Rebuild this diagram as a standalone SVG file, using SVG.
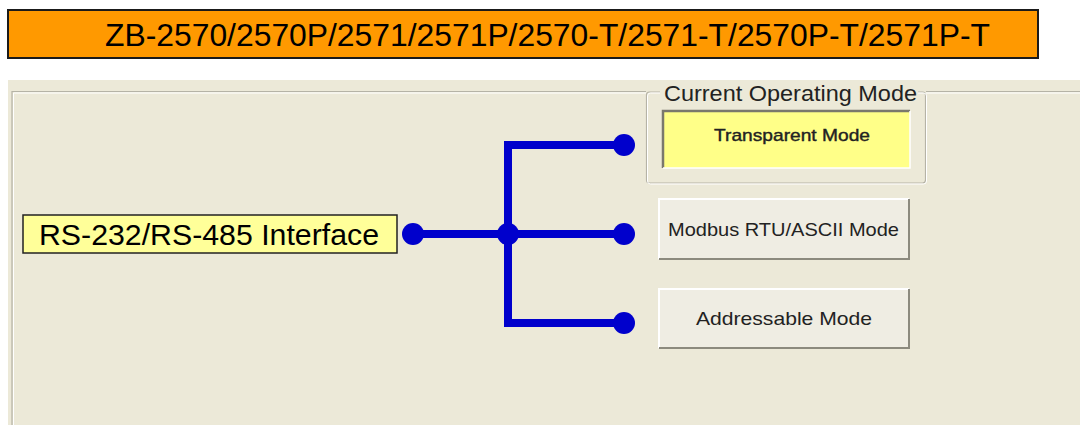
<svg xmlns="http://www.w3.org/2000/svg" width="1080" height="425" viewBox="0 0 1080 425">
<style>
.t{font-family:"Liberation Sans",Arial,sans-serif;fill:#000}
.ui{font-family:"Liberation Sans",Arial,sans-serif;fill:#222}
.wire{stroke:#0000CC;stroke-width:8;fill:none;stroke-linejoin:miter}
.dot{fill:#0000CC}
.btn{fill:#EFEDE3}
.hl{stroke:#FFFFFF;stroke-width:2;fill:none}
.sh{stroke:#8C8A7E;stroke-width:2;fill:none}
.etch{stroke:#B5B3A6;stroke-width:1.2;fill:none}
.etchw{stroke:#FFFFFF;stroke-width:1;fill:none}
</style>
<rect width="1080" height="425" fill="#FFFFFF"/>
<g id="title">
<rect x="8" y="10" width="1030" height="48" fill="#FF9900" stroke="#1A1A1A" stroke-width="2"/>
<text class="t" x="105" y="46" font-size="31" textLength="885" lengthAdjust="spacingAndGlyphs">ZB-2570/2570P/2571/2571P/2570-T/2571-T/2570P-T/2571P-T</text>
</g>
<g id="panel">
<rect x="8" y="80" width="1072" height="345" fill="#ECE9D8"/>
<path class="etch" d="M12 425 V91.5 H646 M926 91.5 H1080"/>
<path class="etchw" d="M13.5 425 V93 H646 M926 93 H1080"/>
</g>
<g id="interface">
<rect x="23" y="215" width="374" height="38" fill="#FFFF99" stroke="#222" stroke-width="1.5"/>
<text class="t" x="39" y="245" font-size="29" fill="#222" textLength="340" lengthAdjust="spacingAndGlyphs">RS-232/RS-485 Interface</text>
</g>
<g id="connectors">
<path class="wire" d="M413 234 H624 M624 145 H508 V323 H624"/>
<circle class="dot" cx="413" cy="234" r="11"/>
<circle class="dot" cx="508" cy="234" r="11"/>
<circle class="dot" cx="624" cy="145" r="11"/>
<circle class="dot" cx="624" cy="234" r="11"/>
<circle class="dot" cx="624" cy="323" r="11"/>
</g>
<g id="current-mode">
<rect x="646.5" y="92" width="279" height="91" rx="3" class="etch"/>
<rect x="647.5" y="93" width="279" height="91" rx="3" class="etchw"/>
<rect x="660" y="84" width="258" height="18" fill="#ECE9D8"/>
<text class="ui" x="664" y="101" font-size="22" textLength="253" lengthAdjust="spacingAndGlyphs">Current Operating Mode</text>
<rect x="662" y="110" width="248" height="58" fill="#FFFF88"/>
<path d="M663 168 V111 H910" stroke="#7A786C" stroke-width="2.5" fill="none"/>
<path d="M663 168 H910 V111" stroke="#FFFFFF" stroke-width="1.5" fill="none"/>
<text class="ui" x="714" y="141" font-size="17" stroke="#222" stroke-width="0.4" textLength="156" lengthAdjust="spacingAndGlyphs">Transparent Mode</text>
</g>
<g id="modbus">
<rect class="btn" x="658" y="198" width="252" height="62"/>
<path class="hl" d="M659 259 V199 H909"/>
<path class="sh" d="M909 199 V259 H659"/>
<text class="ui" x="668" y="236" font-size="19" textLength="231" lengthAdjust="spacingAndGlyphs">Modbus RTU/ASCII Mode</text>
</g>
<g id="addressable">
<rect class="btn" x="658" y="288" width="252" height="61"/>
<path class="hl" d="M659 348 V289 H909"/>
<path class="sh" d="M909 289 V348 H659"/>
<text class="ui" x="696" y="325" font-size="19" textLength="176" lengthAdjust="spacingAndGlyphs">Addressable Mode</text>
</g>
</svg>
